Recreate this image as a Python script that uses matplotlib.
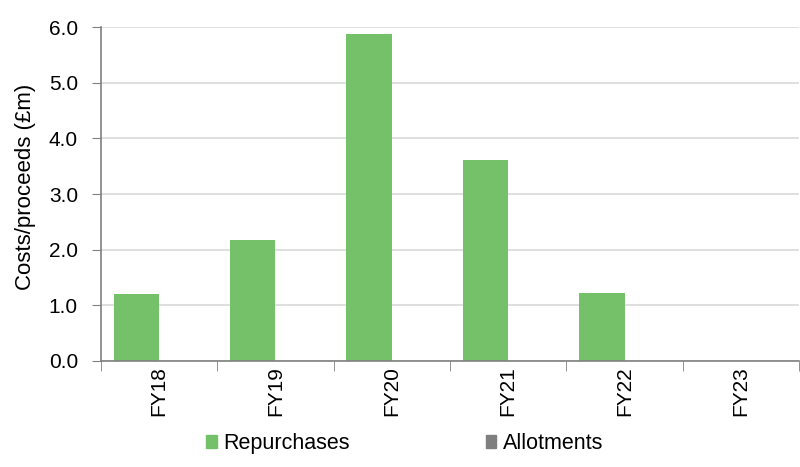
import numpy as np
import matplotlib
matplotlib.use('Agg')
import matplotlib.pyplot as plt
from matplotlib.patches import Patch

# 数据
years = ['FY18', 'FY19', 'FY20', 'FY21', 'FY22', 'FY23']
repurchases = [1.20, 2.17, 5.87, 3.61, 1.22, 0.0]
allotments = [0.0, 0.0, 0.0, 0.0, 0.0, 0.0]

green = '#74C169'
grey = '#7F7F7F'

plt.rcParams['font.family'] = ['Liberation Sans', 'DejaVu Sans']

fig = plt.figure(figsize=(8, 4.67), dpi=100)
ax = fig.add_axes([0.126, 0.227, 0.873, 0.715])

x = np.arange(len(years))
w = 0.39
ax.bar(x - w / 2, repurchases, width=w, color=green, zorder=2)
ax.bar(x + w / 2, allotments, width=w, color=grey, zorder=2)

ax.set_xlim(-0.5, len(years) - 0.5)
ax.set_ylim(0, 6.0)
yt = np.arange(0, 6.01, 1.0)
ax.set_yticks(yt)
ax.set_yticklabels([f'{v:.1f}' for v in yt], fontsize=15)
ax.yaxis.grid(True, color='#D9D9D9', linewidth=1.2, zorder=0)

ax.set_xticks(x)
ax.set_xticklabels(years, rotation=90, fontsize=15)
ax.set_xticks(np.arange(-0.5, len(years), 1.0), minor=True)
ax.tick_params(axis='x', which='major', length=0, pad=4)
ax.tick_params(axis='x', which='minor', length=7, color='#808080')
ax.tick_params(axis='y', length=6.5, color='#808080', pad=10)

for s in ['top', 'right']:
    ax.spines[s].set_visible(False)
for s in ['left', 'bottom']:
    ax.spines[s].set_color('#808080')
    ax.spines[s].set_linewidth(1.2)

ax.set_ylabel('Costs/proceeds (£m)', fontsize=16)
ax.yaxis.set_label_coords(-0.093, 0.521)

handles = [Patch(color=green, label='Repurchases'), Patch(color=grey, label='Allotments')]
fig.legend(handles=handles, loc='center', bbox_to_anchor=(0.506, 0.05), ncol=2,
           frameon=False, fontsize=15.5, handlelength=0.5, handleheight=0.5,
           handletextpad=0.3, columnspacing=6.3)

fig.savefig('out.png', dpi=100)
